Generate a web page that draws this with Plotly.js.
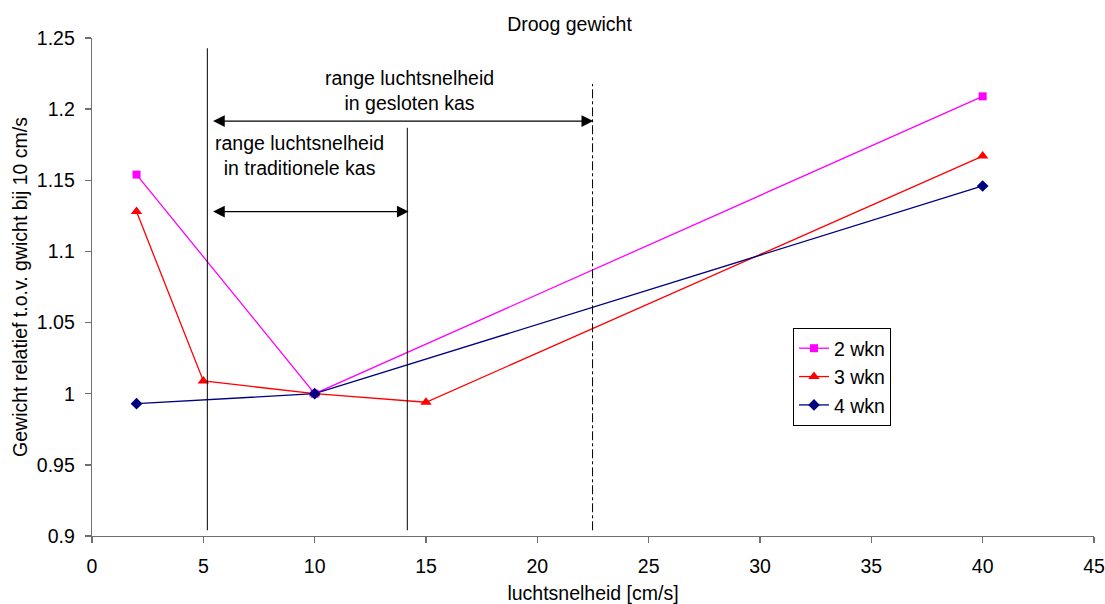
<!DOCTYPE html>
<html>
<head>
<meta charset="utf-8">
<script src="https://cdn.plot.ly/plotly-3.0.1.min.js"></script>
<style>html,body{margin:0;padding:0;background:#fff;}#chart{width:1105px;height:604px;}</style>
</head>
<body>
<div id="chart"></div>
<script>
// ---- data ----
const seriesNames = ["2 wkn", "3 wkn", "4 wkn"];
const wkn2X = [2, 10, 40];
const wkn2Y = [1.154, 1.0, 1.209];
const wkn3X = [2, 5, 10, 15, 40];
const wkn3Y = [1.128, 1.009, 1.0, 0.994, 1.167];
const wkn4X = [2, 10, 40];
const wkn4Y = [0.993, 1.0, 1.146];

// range markers (x in cm/s)
const rangeTradLow = 5.18;
const rangeTradHigh = 14.16;
const rangeClosedHigh = 22.48;

const xTicks = [0, 5, 10, 15, 20, 25, 30, 35, 40, 45];
const yTicks = [0.9, 0.95, 1, 1.05, 1.1, 1.15, 1.2, 1.25];
const yTickText = ["0.9", "0.95", "1", "1.05", "1.1", "1.15", "1.2", "1.25"];

const FONT = "Liberation Sans, Arial, sans-serif";
const FS = 19.5;

const traces = [
  {x: wkn2X, y: wkn2Y, name: seriesNames[0], type: "scatter", mode: "lines+markers",
   line: {color: "#FF00FF", width: 1.3}, marker: {symbol: "square", size: 8, color: "#FF00FF"}},
  {x: wkn3X, y: wkn3Y, name: seriesNames[1], type: "scatter", mode: "lines+markers",
   line: {color: "#FF0000", width: 1.3}, marker: {symbol: "triangle-up", size: 10, color: "#FF0000"}},
  {x: wkn4X, y: wkn4Y, name: seriesNames[2], type: "scatter", mode: "lines+markers",
   line: {color: "#000080", width: 1.3}, marker: {symbol: "diamond", size: 9, color: "#000080"}}
];

const shapes = [
  {type: "line", xref: "x", yref: "y", x0: rangeTradLow, x1: rangeTradLow, y0: 0.904, y1: 1.2428,
   line: {color: "#000", width: 1}},
  {type: "line", xref: "x", yref: "y", x0: rangeTradHigh, x1: rangeTradHigh, y0: 0.904, y1: 1.1869,
   line: {color: "#000", width: 1}},
  {type: "line", xref: "x", yref: "y", x0: rangeClosedHigh, x1: rangeClosedHigh, y0: 0.904, y1: 1.2177,
   line: {color: "#000", width: 1, dash: "dashdot"}}
];

const arrowCommon = {xref: "x", yref: "y", axref: "x", ayref: "y", text: "", showarrow: true,
  arrowhead: 2, startarrowhead: 2, arrowside: "end+start", arrowsize: 1.8, startarrowsize: 1.8,
  arrowwidth: 1.3, arrowcolor: "#000", standoff: 0, startstandoff: 0};

const annotations = [
  Object.assign({}, arrowCommon, {x: 22.51, y: 1.1916, ax: 5.37, ay: 1.1916}),
  Object.assign({}, arrowCommon, {x: 14.22, y: 1.128, ax: 5.37, ay: 1.128}),
  {xref: "x", yref: "y", x: 14.25, y: 1.2134, text: "range luchtsnelheid<br>in gesloten kas",
   showarrow: false, align: "center", font: {family: FONT, size: FS, color: "#000"}},
  {xref: "x", yref: "y", x: 9.30, y: 1.1677, text: "range luchtsnelheid<br>in traditionele kas",
   showarrow: false, align: "center", font: {family: FONT, size: FS, color: "#000"}}
];

const layout = {
  width: 1105, height: 604,
  margin: {l: 92, r: 11, t: 38, b: 68, pad: 0},
  paper_bgcolor: "#fff", plot_bgcolor: "#fff",
  font: {family: FONT, size: FS, color: "#000"},
  title: {text: "Droog gewicht", font: {family: FONT, size: FS, color: "#000"},
          xref: "container", x: 0.5154, xanchor: "center", yref: "container", y: 0.96, yanchor: "middle"},
  xaxis: {
    range: [0, 45], tickvals: xTicks, ticktext: xTicks.map(String),
    showgrid: false, zeroline: false, showline: true, linecolor: "#707070", linewidth: 1.3,
    ticks: "outside", ticklen: 6, tickwidth: 1.3, tickcolor: "#707070",
    tickfont: {family: FONT, size: FS, color: "#000"}, ticklabelstandoff: 6,
    title: {text: "luchtsnelheid [cm/s]", font: {family: FONT, size: FS, color: "#000"}, standoff: 16}
  },
  yaxis: {
    range: [0.9, 1.25], tickvals: yTicks, ticktext: yTickText,
    showgrid: false, zeroline: false, showline: true, linecolor: "#707070", linewidth: 1.3,
    ticks: "outside", ticklen: 6, tickwidth: 1.3, tickcolor: "#707070",
    tickfont: {family: FONT, size: FS, color: "#000"}, ticklabelstandoff: 6,
    title: {text: "Gewicht relatief t.o.v. gwicht bij 10 cm/s", font: {family: FONT, size: FS, color: "#000"}, standoff: 4}
  },
  showlegend: true,
  legend: {x: 0.6996, y: 0.4176, xanchor: "left", yanchor: "top",
           bgcolor: "#fff", bordercolor: "#000", borderwidth: 1,
           font: {family: FONT, size: FS, color: "#000"}, tracegroupgap: 0, itemwidth: 30},
  shapes: shapes,
  annotations: annotations
};

Plotly.newPlot("chart", traces, layout, {displayModeBar: false, staticPlot: true});
</script>
</body>
</html>
